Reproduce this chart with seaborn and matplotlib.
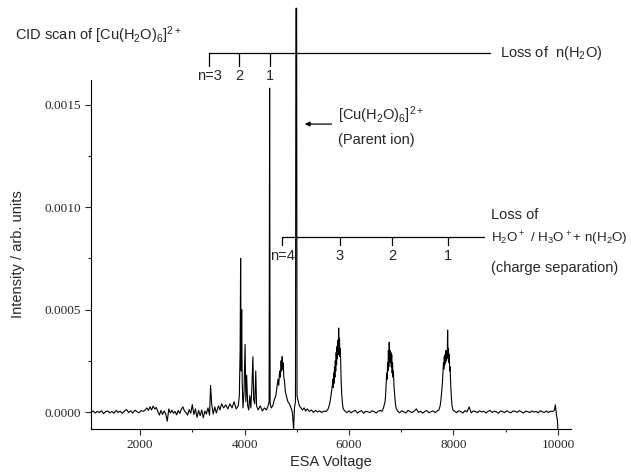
import numpy as np
import seaborn as sns
import matplotlib.pyplot as plt
from matplotlib.ticker import MultipleLocator, FormatStrFormatter

# Spectrum, region by region: ESA voltage and intensity (units of 1e-5)
v_low = [1060, 1100, 1140, 1180, 1220, 1260, 1300, 1340, 1380, 1420, 1460, 1500, 1540, 1580,
         1620, 1660, 1700, 1740, 1780, 1820, 1860, 1900, 1940, 1980, 2020, 2060, 2100]
i_low = [0.0, 0.5, -0.5, 0.3, -0.3, 0.6, -0.8, 0.2, 0.5, -0.4, 0.3, -0.6, 0.8, -0.2,
         0.4, -0.7, 0.5, 1.2, -0.3, 0.6, -0.5, 0.9, 0.2, -0.4, 0.7, 0.3, 1.0]

v_mid = [2130, 2160, 2190, 2220, 2250, 2280, 2310, 2340, 2370, 2400, 2430, 2460, 2490, 2520,
         2550, 2580, 2610, 2640, 2670, 2700, 2730, 2760, 2790, 2820, 2850, 2880, 2910, 2940,
         2970, 3000, 3030, 3060, 3090, 3120, 3150, 3180, 3210, 3240, 3270, 3300, 3330]
i_mid = [2.0, 0.8, 2.6, 1.0, 2.9, 1.5, 2.2, 0.2, -1.5, 0.8, -1.2, 0.5, -0.8, -4.5,
         1.5, -0.5, 0.9, -0.6, 0.3, -1.4, 0.8, -0.7, 1.4, 2.5, 0.4, -0.2, -1.5, 1.2,
         -0.6, 3.6, -1.2, 1.5, -2.6, 0.8, -1.8, 1.0, -2.8, 0.5, -1.0, 2.0, -1.5]

# water-loss fragments (n = 3, 2, 1)
v_frag = [3350, 3370, 3400, 3430, 3460, 3500, 3530, 3560, 3600, 3640, 3680, 3720, 3760, 3800,
          3840, 3880, 3900, 3915, 3925, 3935, 3945, 3955, 3970, 3990, 4010, 4025, 4040, 4060,
          4080, 4100, 4120, 4140, 4160, 4175, 4195, 4215, 4230, 4260, 4300, 4340, 4380, 4420,
          4450, 4470, 4480, 4490, 4510, 4540, 4570]
i_frag = [13.0, 4.0, -1.0, 2.5, -0.5, 3.0, 1.0, 4.0, 2.0, 3.5, 1.5, 4.0, 2.0, 5.0,
          1.5, 3.0, 8.0, 30.0, 75.0, 20.0, 50.0, 15.0, 2.0, 10.0, 33.0, 5.0, 18.0, 3.0,
          1.0, 8.0, 2.0, 12.0, 27.0, 6.0, 4.0, 20.0, 3.0, 1.0, 3.0, 0.5, 2.0, 1.0,
          3.0, 5.0, 158.0, 4.0, 2.0, 3.0, 6.0]

# n=4 charge separation peak and the parent ion
v_parent = [4600, 4620, 4640, 4655, 4670, 4685, 4700, 4710, 4720, 4730, 4740, 4752, 4765, 4780,
            4800, 4830, 4860, 4890, 4915, 4940, 4955, 4975, 4983, 4997, 5005, 5020, 5050, 5080,
            5110, 5140, 5170, 5200, 5240, 5280, 5320, 5360, 5400, 5440, 5480, 5520, 5560, 5600]
i_parent = [8, 12, 16, 13, 20, 17, 25, 20, 27, 21, 24, 17, 15, 10,
            8, 5, 4, 2, 0, -8.5, 2, 5, 197, 197, 8, 6, 3, 2,
            1, 2, 0.5, 1.5, 0.3, 1.0, -0.2, 0.8, 0.0, 0.6, -0.3, 0.5, 0.2, 1.5]

# n=3 charge separation peak
v_cs3 = [5630, 5650, 5665, 5680, 5690, 5698, 5706, 5714, 5722, 5730, 5738, 5746, 5754, 5762,
         5770, 5778, 5786, 5794, 5802, 5810, 5818, 5826, 5834, 5842, 5850, 5860, 5875, 5890,
         5920, 5960, 6000, 6040, 6080, 6120, 6160, 6200, 6240, 6280, 6320, 6360, 6400, 6440,
         6480, 6520, 6560, 6600, 6630, 6660, 6690]
i_cs3 = [4, 7, 10, 13, 16, 12, 19, 14, 22, 17, 25, 20, 29, 23,
         32, 26, 35, 28, 41, 30, 36, 27, 31, 22, 15, 9, 4, 1.5,
         0.5, -0.3, 0.6, -0.4, 0.3, 0.8, -0.5, 0.2, 0.7, -0.6, 0.4, 0.1, -0.3, 0.6,
         0.2, -0.5, 0.4, 0.8, 0.3, 2, 5]

# n=2 charge separation peak
v_cs2 = [6700, 6712, 6722, 6730, 6738, 6746, 6754, 6762, 6770, 6778, 6786, 6794, 6802, 6810,
         6818, 6826, 6834, 6842, 6850, 6860, 6872, 6885, 6900, 6930, 6970, 7010, 7050, 7090,
         7130, 7170, 7210, 7250, 7290, 7330, 7370, 7410, 7450, 7490, 7530, 7570, 7610, 7650,
         7690, 7720, 7745]
i_cs2 = [8, 14, 19, 16, 24, 20, 30, 22, 34, 25, 30, 24, 29, 22,
         28, 19, 24, 17, 20, 13, 9, 5, 2, 0.5, -0.4, 0.6, 0.1, -0.5,
         0.8, 0.2, -0.3, 0.5, 1.5, -0.2, 0.4, -0.6, 0.3, 0.7, -0.4, 0.2, 0.5, -0.3,
         0.6, 1.0, 3]

# n=1 charge separation peak and the tail of the scan
v_cs1 = [7760, 7775, 7790, 7800, 7808, 7816, 7824, 7832, 7840, 7848, 7856, 7864, 7872, 7880,
         7888, 7896, 7904, 7912, 7920, 7928, 7936, 7946, 7958, 7972, 7990,
         8020, 8060, 8100, 8140, 8180, 8220, 8260, 8300, 8340, 8380, 8420, 8460, 8500, 8540,
         8580, 8620, 8660, 8700, 8740, 8780, 8820, 8860, 8900, 8940, 8980, 9020, 9060, 9100,
         9140, 9180, 9220, 9260, 9300, 9340, 9380, 9420, 9460, 9500, 9540, 9580, 9620, 9660,
         9700, 9740, 9780, 9820, 9860, 9900, 9930, 9950, 9970, 9990, 10000]
i_cs1 = [6, 10, 15, 20, 24, 21, 27, 23, 28, 24, 30, 25, 29, 26,
         40, 27, 31, 24, 28, 20, 22, 14, 8, 3, 1,
         0.4, -0.3, 0.6, 0.2, -0.5, 0.7, 0.1, 2.5, -0.4, 0.5, 0.2, -0.3, 0.6, 0.0,
         0.4, -0.5, 0.3, 0.8, -0.2, 0.4, 0.1, -0.6, 0.5, 0.2, -0.3, 0.6, 0.0, -0.4,
         0.5, 0.3, -0.2, 0.7, 0.1, -0.5, 0.4, 0.2, -0.3, 0.5, 0.0, 0.3, -0.4, 0.6,
         0.1, -0.2, 0.5, -0.3, 0.4, 0.2, 0.8, 3.5, -1.0, -4.0, -8.3]

# peak assignments drawn as brackets above the spectrum
water_loss_v = [3320, 3900, 4490]
water_loss_labels = ['n=3', '2', '1']
charge_sep_v = [4720, 5820, 6830, 7900]
charge_sep_labels = ['n=4', '3', '2', '1']
parent_v = 4990

sns.set_style('ticks')
plt.rcParams['font.family'] = ['Liberation Sans', 'DejaVu Sans']
plt.rcParams['mathtext.fontset'] = 'custom'
plt.rcParams['mathtext.rm'] = 'Liberation Sans'
plt.rcParams['mathtext.default'] = 'regular'

fig = plt.figure(figsize=(6.31, 4.74), dpi=100)
ax = fig.add_axes([0.1442, 0.0949, 0.7607, 0.7363])

voltage = np.concatenate([v_low, v_mid, v_frag, v_parent, v_cs3, v_cs2, v_cs1])
intensity = np.concatenate([i_low, i_mid, i_frag, i_parent, i_cs3, i_cs2, i_cs1]) * 1e-5
sns.lineplot(x=voltage, y=intensity, ax=ax, color='black', linewidth=0.8,
             estimator=None, sort=False)
ax.lines[0].set_clip_on(False)

ax.set_xlim(1060, 10250)
ax.set_ylim(-0.000083, 0.00162)
ax.xaxis.set_major_locator(MultipleLocator(2000))
ax.xaxis.set_minor_locator(MultipleLocator(1000))
ax.yaxis.set_major_locator(MultipleLocator(0.0005))
ax.yaxis.set_minor_locator(MultipleLocator(0.00025))
ax.yaxis.set_major_formatter(FormatStrFormatter('%.4f'))
ax.tick_params(which='major', direction='out', length=4, width=0.8, pad=3, labelsize=9.5)
ax.tick_params(which='minor', direction='out', length=2.5, width=0.8)
for lab in ax.get_xticklabels() + ax.get_yticklabels():
    lab.set_fontfamily('Liberation Serif')
for s in ['top', 'right']:
    ax.spines[s].set_visible(False)
for s in ['left', 'bottom']:
    ax.spines[s].set_linewidth(0.8)
    ax.spines[s].set_color('black')

ax.set_xlabel('ESA Voltage', fontsize=10.5, labelpad=3)
ax.set_ylabel('Intensity / arb. units', fontsize=10.5, labelpad=14)

txt = dict(fontsize=10.5, clip_on=False)
fig.text(0.024, 0.926, r'CID scan of [Cu(H$_2$O)$_6$]$^{2+}$', fontsize=10.5, va='center')

# loss of water bracket
y_top = 0.00175
ax.plot([water_loss_v[0], 8700], [y_top, y_top], color='black', lw=0.9, clip_on=False)
for v, lab in zip(water_loss_v, water_loss_labels):
    ax.plot([v, v], [y_top, 0.00169], color='black', lw=0.9, clip_on=False)
    ax.text(v, 0.001642, lab, ha='center', va='center', **txt)
ax.text(8900, y_top, r'Loss of  n(H$_2$O)', ha='left', va='center', **txt)

# parent ion arrow
ax.annotate('', xy=(parent_v + 110, 0.001405), xytext=(5720, 0.001405),
            arrowprops=dict(arrowstyle='-|>', color='black', lw=0.9, mutation_scale=7))
ax.text(5780, 0.00145, r'[Cu(H$_2$O)$_6$]$^{2+}$', ha='left', va='center', **txt)
ax.text(5780, 0.001327, '(Parent ion)', ha='left', va='center', **txt)

# charge separation bracket
y_cs = 0.000854
ax.plot([charge_sep_v[0], 8575], [y_cs, y_cs], color='black', lw=0.9, clip_on=False)
for v, lab in zip(charge_sep_v, charge_sep_labels):
    ax.plot([v, v], [y_cs, 0.000815], color='black', lw=0.9, clip_on=False)
    ax.text(v, 0.00076, lab, ha='center', va='center', **txt)
ax.text(8728, 0.00096, 'Loss of', ha='left', va='center', **txt)
ax.text(8728, 0.000844, r'H$_2$O$^+$ / H$_3$O$^+$+ n(H$_2$O)', ha='left', va='center',
        fontsize=9.6, clip_on=False)
ax.text(8728, 0.000702, '(charge separation)', ha='left', va='center', **txt)

fig.savefig('out.png', dpi=100)
